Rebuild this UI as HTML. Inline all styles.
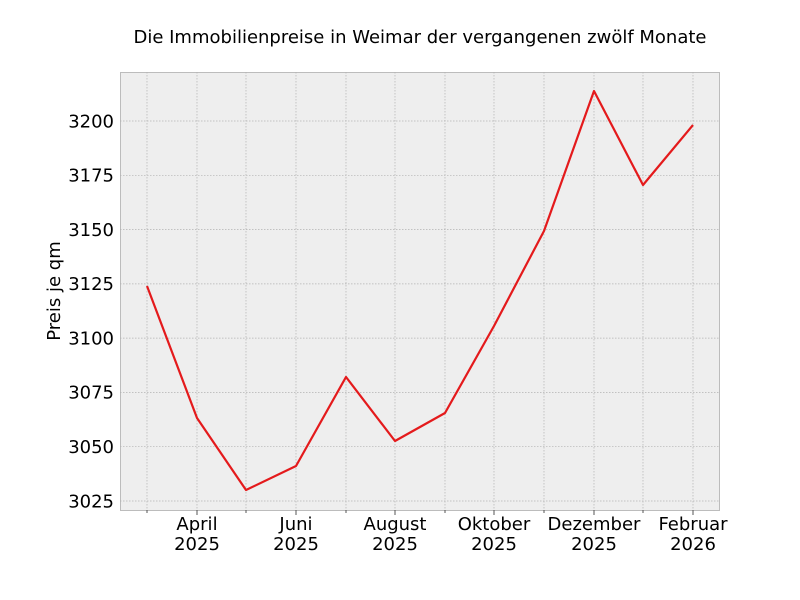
<!DOCTYPE html>
<html><head><meta charset="utf-8"><style>
html,body{margin:0;padding:0;background:#fff;}
svg{display:block;font-family:"DejaVu Sans","Liberation Sans",sans-serif;}
</style></head><body>
<svg width="800" height="600" viewBox="0 0 800 600">
<rect x="0" y="0" width="800" height="600" fill="#fff"/>
<rect x="120.5" y="72.5" width="599" height="438" fill="#eeeeee" stroke="#bcbcbc" stroke-width="1"/>
<g stroke="#b2b2b2" stroke-width="0.7" stroke-dasharray="1.5,1.5">
<line x1="147" y1="72" x2="147" y2="510"/><line x1="197" y1="72" x2="197" y2="510"/>
<line x1="246" y1="72" x2="246" y2="510"/><line x1="296" y1="72" x2="296" y2="510"/>
<line x1="346" y1="72" x2="346" y2="510"/><line x1="395" y1="72" x2="395" y2="510"/>
<line x1="445" y1="72" x2="445" y2="510"/><line x1="494" y1="72" x2="494" y2="510"/>
<line x1="544" y1="72" x2="544" y2="510"/><line x1="594" y1="72" x2="594" y2="510"/>
<line x1="643" y1="72" x2="643" y2="510"/><line x1="693" y1="72" x2="693" y2="510"/>
<line x1="120" y1="121" x2="720" y2="121"/><line x1="120" y1="175.3" x2="720" y2="175.3"/>
<line x1="120" y1="229.6" x2="720" y2="229.6"/><line x1="120" y1="283.9" x2="720" y2="283.9"/>
<line x1="120" y1="338.1" x2="720" y2="338.1"/><line x1="120" y1="392.4" x2="720" y2="392.4"/>
<line x1="120" y1="446.7" x2="720" y2="446.7"/><line x1="120" y1="501" x2="720" y2="501"/>
</g>
<g stroke="#555" stroke-width="1">
<line x1="147" y1="510" x2="147" y2="513"/><line x1="197" y1="510" x2="197" y2="515"/>
<line x1="246" y1="510" x2="246" y2="513"/><line x1="296" y1="510" x2="296" y2="515"/>
<line x1="346" y1="510" x2="346" y2="513"/><line x1="395" y1="510" x2="395" y2="515"/>
<line x1="445" y1="510" x2="445" y2="513"/><line x1="494" y1="510" x2="494" y2="515"/>
<line x1="544" y1="510" x2="544" y2="513"/><line x1="594" y1="510" x2="594" y2="515"/>
<line x1="643" y1="510" x2="643" y2="513"/><line x1="693" y1="510" x2="693" y2="515"/>
</g>
<polyline fill="none" stroke="#e41a1c" stroke-width="2.2" stroke-linejoin="round"
points="147,286 197,418 246,490 296,466 346,377 395,441 445,413 494,326 544,231 594,91 643,185 693,125"/>
<g font-size="18" fill="#000" text-anchor="end">
<text x="114" y="127.5">3200</text><text x="114" y="181.5">3175</text>
<text x="114" y="236">3150</text><text x="114" y="290">3125</text>
<text x="114" y="344.5">3100</text><text x="114" y="398.5">3075</text>
<text x="114" y="453">3050</text><text x="114" y="507.5">3025</text>
</g>
<g font-size="18" fill="#000" text-anchor="middle">
<text x="197" y="530">April</text><text x="197" y="550">2025</text>
<text x="296" y="530">Juni</text><text x="296" y="550">2025</text>
<text x="395" y="530">August</text><text x="395" y="550">2025</text>
<text x="494" y="530">Oktober</text><text x="494" y="550">2025</text>
<text x="594" y="530">Dezember</text><text x="594" y="550">2025</text>
<text x="693" y="530">Februar</text><text x="693" y="550">2026</text>
<text x="420" y="43">Die Immobilienpreise in Weimar der vergangenen zwölf Monate</text>
<text transform="translate(60,291) rotate(-90)">Preis je qm</text>
</g>
</svg>
</body></html>
